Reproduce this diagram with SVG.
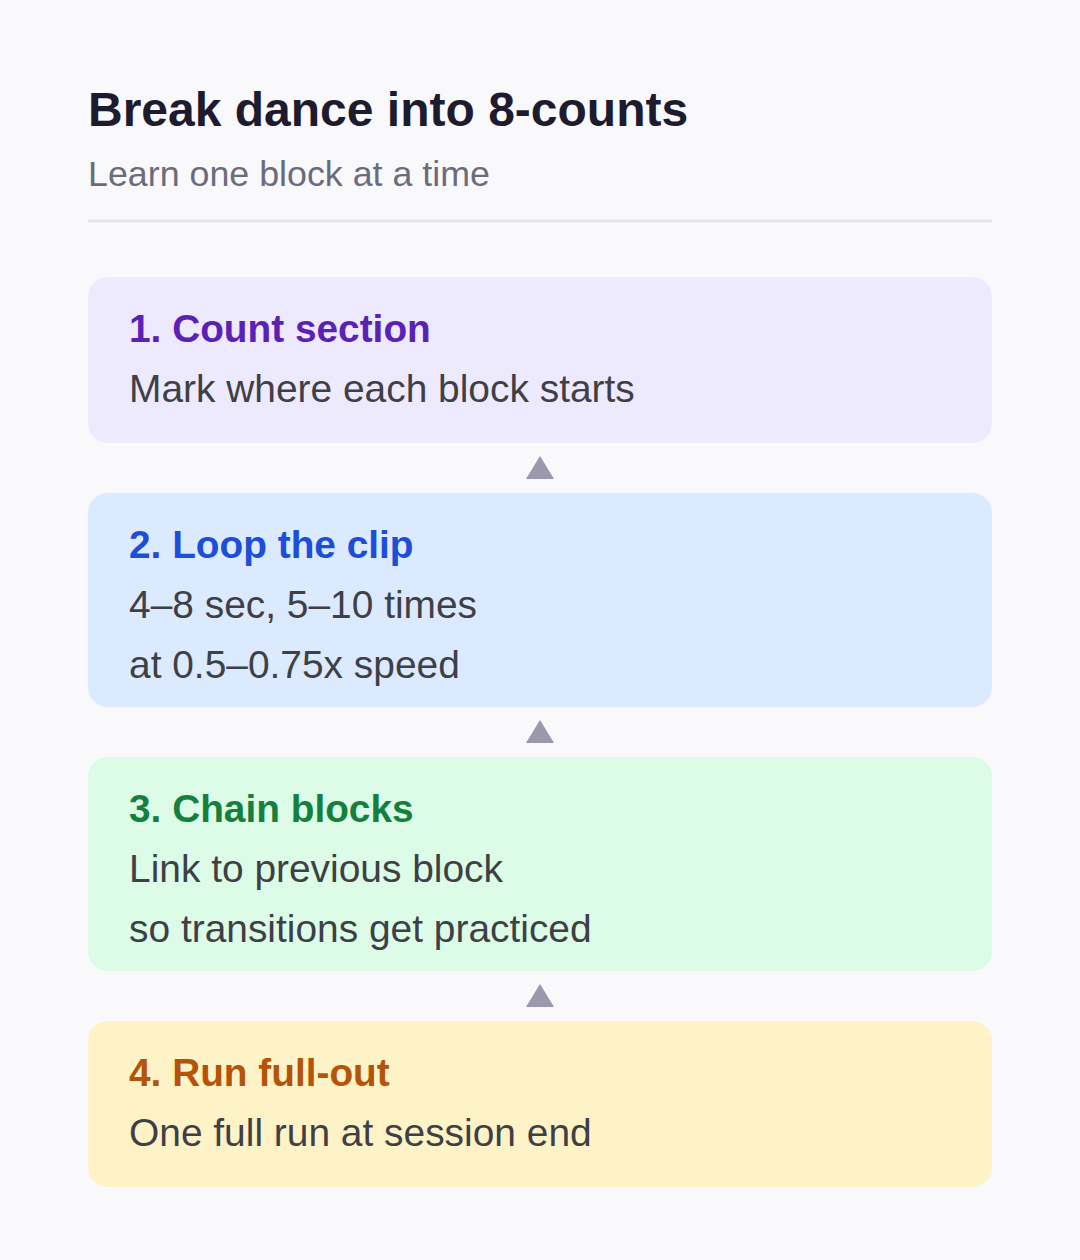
<svg xmlns="http://www.w3.org/2000/svg" width="1080" height="1260" viewBox="0 0 1080 1260">
<style>
.title{font-family:"Liberation Sans",Arial,sans-serif;font-weight:bold;font-size:48px;fill:#1e1b2e}
.sub{font-family:"Liberation Sans",Arial,sans-serif;font-size:35.8px;fill:#6b6b7b}
.h{font-family:"Liberation Sans",Arial,sans-serif;font-weight:bold;font-size:38.8px}
.b{font-family:"Liberation Sans",Arial,sans-serif;font-size:38.9px;fill:#3f3f46}
.arr{fill:#9a98ab}
</style>
<rect width="1080" height="1260" fill="#f9f9fc"/>
<text class="title" x="88" y="126">Break dance into 8-counts</text>
<text class="sub" x="88" y="186">Learn one block at a time</text>
<line x1="88" y1="221" x2="992" y2="221" stroke="#e4e4ea" stroke-width="3"/>
<g id="n1">
<rect x="88" y="277" width="904" height="166" rx="20" fill="#ede9fe"/>
<text class="h" x="129" y="342" fill="#5b21b6">1. Count section</text>
<text class="b" x="129" y="402">Mark where each block starts</text>
</g>
<g id="n2">
<rect x="88" y="493" width="904" height="214" rx="20" fill="#dbeafe"/>
<text class="h" x="129" y="558" fill="#1d4ed8">2. Loop the clip</text>
<text class="b" x="129" y="618">4–8 sec, 5–10 times</text>
<text class="b" x="129" y="678">at 0.5–0.75x speed</text>
</g>
<g id="n3">
<rect x="88" y="757" width="904" height="214" rx="20" fill="#dcfce7"/>
<text class="h" x="129" y="822" fill="#15803d">3. Chain blocks</text>
<text class="b" x="129" y="882">Link to previous block</text>
<text class="b" x="129" y="942">so transitions get practiced</text>
</g>
<g id="n4">
<rect x="88" y="1021" width="904" height="166" rx="20" fill="#fef3c7"/>
<text class="h" x="129" y="1086" fill="#b45309">4. Run full-out</text>
<text class="b" x="129" y="1146">One full run at session end</text>
</g>
<g id="connectors">
<polygon class="arr" points="540,456 554,479 526,479"/>
<polygon class="arr" points="540,720 554,743 526,743"/>
<polygon class="arr" points="540,984 554,1007 526,1007"/>
</g>
</svg>
